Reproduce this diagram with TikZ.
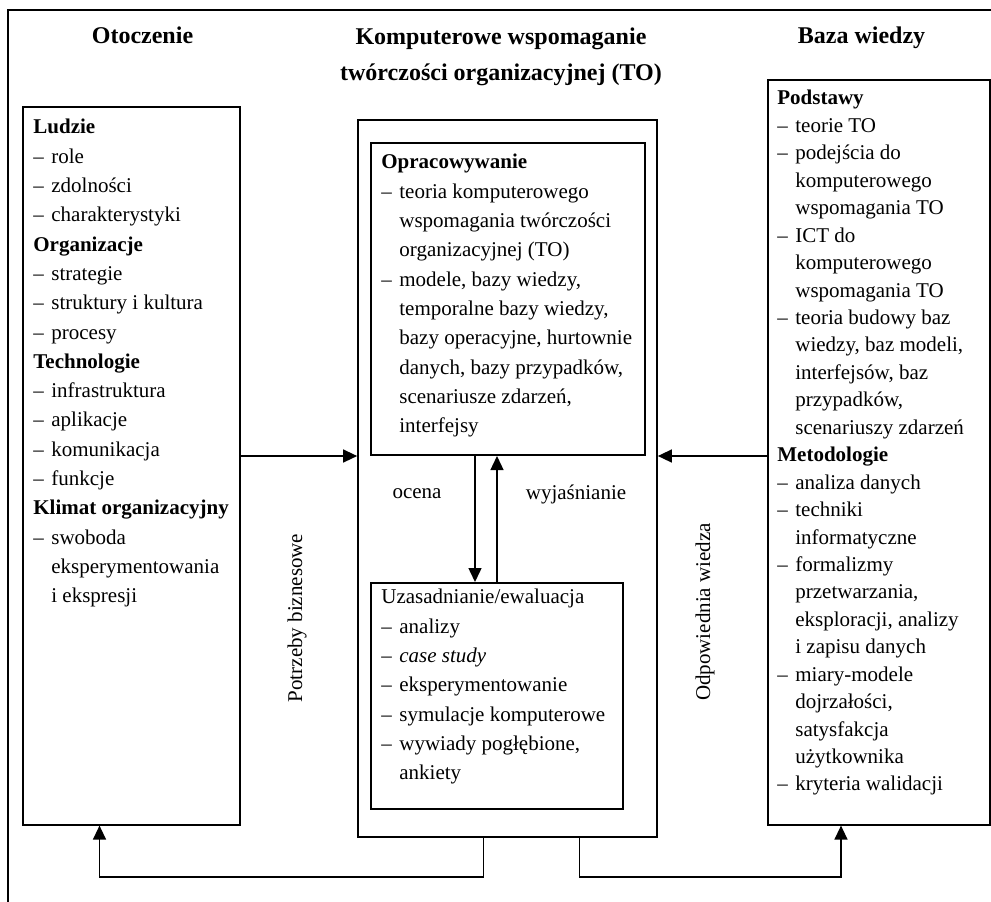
\documentclass[tikz,border=0pt]{standalone}
\usepackage{fontspec}
\setmainfont{Liberation Serif}
\usetikzlibrary{positioning,arrows.meta,fit}
\newcommand{\itm}{\makebox[9pt][l]{--}}
\newcommand{\cnt}{\hspace*{9pt}}
\tikzset{
  box/.style={draw, inner sep=0pt, line width=0.6pt},
  corebox/.style={box, line width=0.85pt},
  innerbox/.style={box, line width=1pt},
  frame/.style={draw, inner sep=0pt, line width=0.9pt},
  flow/.style={-{Triangle[length=7pt,width=6.5pt]}, line width=0.7pt},
  txt/.style={anchor=north west, inner sep=0pt, align=left,
              font=\fontsize{10.5}{14.65}\selectfont},
  head/.style={font=\fontsize{12}{18}\selectfont\bfseries, inner sep=0pt, align=center},
  lab/.style={font=\fontsize{10.5}{13}\selectfont, inner sep=0pt},
}

\begin{document}
\begin{tikzpicture}[x=0.5pt, y=-0.5pt]
  \useasboundingbox (0,0) rectangle (991,901);
  \node[frame, fit={(8,10) (1010,920)}] (all) {};

  % column titles
  \node[head, anchor=base] (thenv) at (142.5,43) {Otoczenie};
  \node[head, anchor=north] (thcore) at (501,27) {Komputerowe wspomaganie\\
    twórczości organizacyjnej (TO)};
  \node[head, anchor=base] (thkb) at (861.5,43) {Baza wiedzy};

  % left column
  \node[box, fit={(23,107) (240,825)}] (env) {};
  \node[txt] (envtxt) at (33,119) {%
    \textbf{Ludzie}\\
    \itm role\\
    \itm zdolności\\
    \itm charakterystyki\\
    \textbf{Organizacje}\\
    \itm strategie\\
    \itm struktury i kultura\\
    \itm procesy\\
    \textbf{Technologie}\\
    \itm infrastruktura\\
    \itm aplikacje\\
    \itm komunikacja\\
    \itm funkcje\\
    \textbf{Klimat organizacyjny}\\
    \itm swoboda\\
    \cnt eksperymentowania\\
    \cnt i ekspresji};

  % middle column
  \node[corebox, fit={(358,120) (657,837)}] (core) {};
  \node[innerbox, fit={(371,143) (645,455)}] (opr) {};
  \node[txt] (oprtxt) at (381,154) {%
    \textbf{Opracowywanie}\\
    \itm teoria komputerowego\\
    \cnt wspomagania twórczości\\
    \cnt organizacyjnej (TO)\\
    \itm modele, bazy wiedzy,\\
    \cnt temporalne bazy wiedzy,\\
    \cnt bazy operacyjne, hurtownie\\
    \cnt danych, bazy przypadków,\\
    \cnt scenariusze zdarzeń,\\
    \cnt interfejsy};
  \node[innerbox, fit={(371,583) (623,809)}] (uza) {};
  \node[txt] (uzatxt) at (381,589) {%
    Uzasadnianie/ewaluacja\\
    \itm analizy\\
    \itm \textit{case study}\\
    \itm eksperymentowanie\\
    \itm symulacje komputerowe\\
    \itm wywiady pogłębione,\\
    \cnt ankiety};

  % right column
  \node[box, fit={(768,80) (990,825)}] (kb) {};
  \node[txt, font=\fontsize{10.5}{13.72}\selectfont] (kbtxt) at (777,90) {%
    \textbf{Podstawy}\\
    \itm teorie TO\\
    \itm podejścia do\\
    \cnt komputerowego\\
    \cnt wspomagania TO\\
    \itm ICT do\\
    \cnt komputerowego\\
    \cnt wspomagania TO\\
    \itm teoria budowy baz\\
    \cnt wiedzy, baz modeli,\\
    \cnt interfejsów, baz\\
    \cnt przypadków,\\
    \cnt scenariuszy zdarzeń\\
    \textbf{Metodologie}\\
    \itm analiza danych\\
    \itm techniki\\
    \cnt informatyczne\\
    \itm formalizmy\\
    \cnt przetwarzania,\\
    \cnt eksploracji, analizy\\
    \cnt i zapisu danych\\
    \itm miary-modele\\
    \cnt dojrzałości,\\
    \cnt satysfakcja\\
    \cnt użytkownika\\
    \itm kryteria walidacji};

  % connectors
  \draw[flow] (env.east |- opr.south) -- (core.west |- opr.south);
  \draw[flow] (kb.west |- opr.south) -- (core.east |- opr.south);
  \draw[flow] ([xshift=-11pt]uza.north |- opr.south) -- ([xshift=-11pt]uza.north);
  \draw[flow] (uza.north) -- (uza.north |- opr.south);
  \draw[flow] ([xshift=-12pt]core.south) -- ++(0,39) -| ([xshift=-16pt]env.south);
  \draw[flow] ([xshift=36pt]core.south) -- ++(0,39) -| ([xshift=-19pt]kb.south);

  \node[lab] (ocena) at (417,494) {ocena};
  \node[lab] (wyj) at (576,494) {wyjaśnianie};
  \node[lab, rotate=90] (potrz) at (297,618) {Potrzeby biznesowe};
  \node[lab, rotate=90] (odp) at (705,612) {Odpowiednia wiedza};
\end{tikzpicture}
\end{document}
